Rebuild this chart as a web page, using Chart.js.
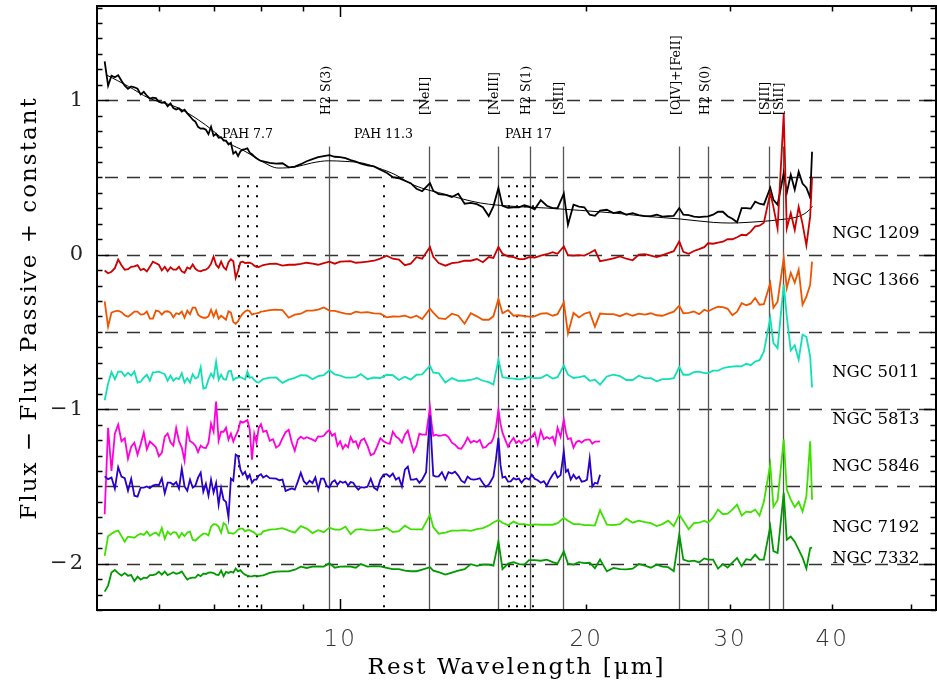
<!DOCTYPE html>
<html>
<head>
<meta charset="utf-8">
<script src="https://cdn.jsdelivr.net/npm/chart.js@4.4.1/dist/chart.umd.min.js"></script>
<style>
html,body{margin:0;padding:0;background:#fff;}
canvas{display:block;}
</style>
</head>
<body>
<canvas id="c" width="937" height="689"></canvas>
<script>
// ---------- data ----------
// common wavelength grid (micron) for the full-range spectra
const wavelengths = [5.15,5.2,5.25,5.3,5.35,5.4,5.45,5.5,5.55,5.6,5.65,5.7,5.75,5.8,5.85,5.9,5.95,6.0,6.05,6.1,
6.15,6.2,6.25,6.3,6.35,6.4,6.45,6.5,6.55,6.6,6.65,6.7,6.75,6.8,6.85,6.9,6.95,7.0,7.05,7.1,
7.15,7.2,7.25,7.3,7.35,7.4,7.45,7.5,7.55,7.6,7.65,7.7,7.75,7.8,7.85,7.9,7.95,8.0,8.05,
8.2,8.35,8.5,8.65,8.8,8.95,9.1,9.25,9.4,9.55,
9.7,9.85,10.0,10.15,10.3,10.45,10.6,10.8,11.0,11.2,11.4,11.6,11.8,12.0,12.2,12.4,12.6,12.88,13.0,13.2,
13.45,13.7,13.95,14.2,14.45,14.7,14.95,15.2,15.4,15.62,15.8,16.05,16.3,16.55,16.8,17.03,17.3,17.6,17.9,18.2,
18.45,18.78,19.0,19.3,19.6,19.9,20.2,20.5,20.8,21.2,21.6,22.0,22.4,22.8,23.2,23.6,24.0,24.4,24.8,25.2,
25.6,26.0,26.3,26.7,27.1,27.5,27.9,28.2,28.6,29.0,29.4,29.8,30.2,30.6,31.0,31.4,31.8,32.2,32.6,33.0,
33.6,33.9,34.3,34.9,35.2,35.6,36.0,36.4,36.8,37.2,37.6,37.8];

// finer wavelength grid (micron) for the two short-range spectra (NGC 5813, NGC 5846)
const wavelengthsShort = [5.15,5.2,5.25,5.3,5.35,5.4,5.45,5.5,5.55,5.6,5.65,5.7,5.75,5.8,5.85,5.9,5.95,6.0,6.05,6.1,
6.15,6.2,6.25,6.3,6.35,6.4,6.45,6.5,6.55,6.6,6.65,6.7,6.75,6.8,6.85,6.9,6.95,7.0,7.05,7.1,
7.15,7.2,7.25,7.3,7.35,7.4,7.45,7.5,7.55,7.6,7.65,7.7,7.75,7.8,7.85,7.9,7.95,8.0,8.05,
8.125,8.2,8.275,8.35,8.425,8.5,8.575,8.65,8.725,8.8,8.875,8.95,9.025,9.1,9.175,9.25,9.325,9.4,9.475,9.55,
9.625,9.7,9.775,9.85,9.925,10.0,10.075,10.15,10.225,10.3,10.375,10.45,10.525,10.6,10.7,10.8,10.9,11.0,11.1,11.2,
11.3,11.4,11.5,11.6,11.7,11.8,11.9,12.0,12.1,12.2,12.3,12.4,12.5,12.6,12.74,12.88,12.94,13.0,13.1,13.2,
13.32,13.45,13.57,13.7,13.82,13.95,14.07,14.2,14.32,14.45,14.57,14.7,14.82,14.95,15.07,15.2,15.3,15.4,15.51,15.62,
15.71,15.8,15.92,16.05,16.17,16.3,16.42,16.55,16.67,16.8,16.91,17.03,17.16,17.3,17.45,17.6,17.75,17.9,18.05,18.2,
18.32,18.45,18.61,18.78,18.89,19.0,19.15,19.3,19.45,19.6,19.75,19.9,20.05,20.2,20.35,20.5,20.65,20.8];

const passive = [1.251,1.094,1.159,1.149,1.162,1.126,1.094,1.074,1.089,1.084,1.074,1.038,1.055,1.029,1.010,1.016,1.014,0.990,0.984,0.988,
0.961,0.979,0.950,0.940,0.947,0.927,0.939,0.915,0.896,0.874,0.861,0.828,0.816,0.818,0.809,0.780,0.828,0.770,0.783,0.757,
0.760,0.738,0.738,0.714,0.725,0.654,0.667,0.639,0.669,0.680,0.684,0.689,0.660,0.650,0.636,0.625,0.615,0.607,0.604,
0.594,0.589,0.592,0.566,0.570,0.586,0.605,0.619,0.631,0.638,
0.644,0.634,0.632,0.625,0.612,0.602,0.590,0.579,0.572,0.550,
0.531,0.502,0.495,0.479,0.463,0.427,0.411,0.464,0.414,0.392,
0.388,0.373,0.395,0.330,0.335,0.327,0.307,0.250,0.313,0.432,
0.317,0.304,0.307,0.307,0.320,0.311,0.294,0.353,0.317,0.302,
0.301,0.395,0.194,0.324,0.311,0.307,0.259,0.252,0.285,0.291,
0.269,0.278,0.259,0.269,0.256,0.250,0.249,0.259,0.246,0.250,
0.252,0.302,0.259,0.256,0.246,0.243,0.246,0.248,0.259,0.278,
0.278,0.249,0.233,0.210,0.301,0.301,0.298,0.343,0.330,0.324,
0.432,0.356,0.324,0.529,0.401,0.518,0.421,0.537,0.460,0.434,
0.370,0.667];

const modelWave = [5.17,5.51,5.83,6.34,6.84,7.30,7.65,8.02,8.40,8.81,9.23,9.68,10.14,10.63,11.14,11.68,12.27,13.51,14.84,16.30,17.90,19.67,21.61,23.74,26.08,28.64,30.02,31.47,32.97,34.55,36.21,37.24,37.84];
const modelFlux = [1.165,1.089,1.014,0.950,0.841,0.723,0.669,0.604,0.561,0.568,0.594,0.608,0.604,0.594,0.561,0.518,0.453,0.388,0.335,0.313,0.302,0.287,0.270,0.248,0.231,0.209,0.205,0.209,0.216,0.227,0.244,0.275,0.313];

const ngc1209 = [-0.102,-0.120,-0.110,-0.087,-0.032,-0.068,-0.097,-0.094,-0.078,-0.076,-0.068,-0.100,-0.091,-0.108,-0.078,-0.045,-0.055,-0.065,-0.102,-0.078,
-0.107,-0.081,-0.097,-0.097,-0.078,-0.108,-0.117,-0.083,-0.091,-0.063,-0.091,-0.104,-0.107,-0.100,-0.097,-0.084,-0.058,-0.012,-0.065,-0.084,
-0.045,-0.081,-0.097,-0.049,-0.029,-0.042,-0.150,-0.104,-0.049,-0.045,-0.054,-0.052,-0.052,-0.058,-0.071,-0.078,-0.080,-0.073,-0.068,
-0.060,-0.058,-0.071,-0.065,-0.065,-0.060,-0.052,-0.058,-0.065,-0.054,
-0.045,-0.058,-0.045,-0.043,-0.042,-0.052,-0.049,-0.045,-0.039,-0.025,
-0.006,-0.026,-0.032,-0.068,-0.058,-0.016,-0.026,0.050,-0.013,-0.054,
-0.071,-0.054,-0.049,-0.039,-0.039,-0.028,-0.049,-0.015,-0.021,0.050,
0.006,-0.011,-0.016,-0.028,-0.029,-0.016,-0.019,-0.006,0.003,0.016,
0.006,0.054,-0.003,-0.006,-0.003,-0.006,0.011,0.030,-0.042,-0.034,
-0.024,-0.011,-0.026,-0.036,0.000,0.003,-0.006,-0.016,-0.003,0.010,
0.023,0.086,0.019,0.006,0.024,0.036,0.049,0.074,0.071,0.078,
0.084,0.100,0.100,0.113,0.129,0.126,0.149,0.183,0.188,0.207,
0.400,0.310,0.170,0.913,0.170,0.270,0.160,0.310,0.200,0.060,
0.248,0.498];

const ngc1366 = [-0.302,-0.466,-0.375,-0.366,-0.362,-0.372,-0.392,-0.401,-0.385,-0.368,-0.369,-0.388,-0.385,-0.368,-0.414,-0.414,-0.362,-0.366,-0.388,-0.369,
-0.366,-0.375,-0.405,-0.379,-0.385,-0.368,-0.408,-0.362,-0.385,-0.343,-0.343,-0.388,-0.401,-0.408,-0.408,-0.399,-0.356,-0.401,-0.362,-0.414,
-0.395,-0.408,-0.421,-0.366,-0.375,-0.436,-0.447,-0.430,-0.401,-0.382,-0.367,-0.359,-0.366,-0.388,-0.382,-0.380,-0.377,-0.369,-0.367,
-0.359,-0.355,-0.359,-0.408,-0.388,-0.382,-0.362,-0.362,-0.355,-0.341,
-0.362,-0.364,-0.373,-0.382,-0.385,-0.369,-0.375,-0.372,-0.380,-0.382,
-0.405,-0.400,-0.401,-0.395,-0.408,-0.395,-0.417,-0.350,-0.375,-0.410,
-0.417,-0.382,-0.395,-0.447,-0.379,-0.399,-0.421,-0.421,-0.399,-0.287,
-0.379,-0.359,-0.395,-0.392,-0.398,-0.401,-0.399,-0.382,-0.379,-0.395,
-0.385,-0.309,-0.510,-0.377,-0.406,-0.382,-0.372,-0.466,-0.381,-0.385,
-0.385,-0.398,-0.380,-0.395,-0.382,-0.388,-0.379,-0.392,-0.395,-0.382,
-0.369,-0.330,-0.379,-0.377,-0.367,-0.385,-0.356,-0.366,-0.350,-0.337,
-0.340,-0.350,-0.392,-0.369,-0.314,-0.327,-0.317,-0.280,-0.324,-0.320,
-0.183,-0.343,-0.304,-0.021,-0.216,-0.117,-0.181,-0.097,-0.324,-0.272,
-0.194,-0.045];

const ngc5011 = [-0.942,-0.835,-0.760,-0.806,-0.757,-0.757,-0.786,-0.764,-0.783,-0.756,-0.828,-0.822,-0.796,-0.777,-0.816,-0.762,-0.760,-0.757,-0.766,-0.773,
-0.816,-0.783,-0.816,-0.799,-0.806,-0.767,-0.828,-0.799,-0.828,-0.773,-0.802,-0.793,-0.728,-0.867,-0.861,-0.806,-0.770,-0.796,-0.693,-0.809,
-0.777,-0.806,-0.809,-0.754,-0.751,-0.812,-0.799,-0.796,-0.793,-0.800,-0.808,-0.757,-0.796,-0.793,-0.812,-0.824,-0.828,-0.816,-0.805,
-0.796,-0.795,-0.830,-0.809,-0.797,-0.780,-0.782,-0.806,-0.786,-0.780,
-0.748,-0.775,-0.782,-0.796,-0.796,-0.792,-0.773,-0.806,-0.795,-0.798,
-0.777,-0.780,-0.811,-0.790,-0.809,-0.777,-0.775,-0.720,-0.764,-0.767,
-0.828,-0.799,-0.816,-0.816,-0.811,-0.798,-0.816,-0.825,-0.841,-0.680,
-0.793,-0.799,-0.802,-0.807,-0.802,-0.793,-0.799,-0.799,-0.777,-0.802,
-0.793,-0.718,-0.777,-0.798,-0.793,-0.785,-0.816,-0.809,-0.841,-0.788,
-0.777,-0.786,-0.811,-0.811,-0.783,-0.799,-0.799,-0.819,-0.805,-0.806,
-0.799,-0.727,-0.777,-0.777,-0.760,-0.757,-0.766,-0.766,-0.751,-0.751,
-0.735,-0.728,-0.725,-0.722,-0.723,-0.706,-0.715,-0.691,-0.683,-0.628,
-0.410,-0.572,-0.605,-0.194,-0.399,-0.620,-0.586,-0.680,-0.518,-0.531,
-0.660,-0.860];

const ngc5813 = [-1.680,-1.120,-1.400,-1.158,-1.100,-1.207,-1.188,-1.320,-1.243,-1.217,-1.294,-1.227,-1.152,-1.259,-1.210,-1.227,-1.246,-1.304,-1.283,-1.178,
-1.158,-1.214,-1.236,-1.123,-1.207,-1.249,-1.333,-1.133,-1.207,-1.217,-1.236,-1.278,-1.236,-1.249,-1.252,-1.217,-1.094,-1.146,-0.950,-1.204,
-1.146,-1.146,-1.120,-1.197,-1.158,-1.210,-1.172,-1.139,-1.079,-1.087,-1.079,-1.071,-1.130,-1.327,-1.160,-1.217,-1.120,-1.097,-1.146,
-1.139,-1.204,-1.194,-1.249,-1.233,-1.188,-1.149,-1.133,-1.214,-1.269,-1.197,-1.178,-1.191,-1.181,-1.189,-1.197,-1.206,-1.176,-1.178,-1.172,
-1.149,-1.136,-1.172,-1.158,-1.236,-1.208,-1.256,-1.230,-1.246,-1.181,-1.214,-1.207,-1.249,-1.204,-1.190,-1.236,-1.298,-1.288,-1.241,-1.188,
-1.207,-1.219,-1.225,-1.146,-1.176,-1.191,-1.217,-1.165,-1.139,-1.210,-1.275,-1.236,-1.158,-1.165,-1.165,-0.990,-1.094,-1.172,-1.165,-1.172,
-1.170,-1.165,-1.181,-1.217,-1.230,-1.252,-1.256,-1.223,-1.184,-1.217,-1.204,-1.214,-1.199,-1.249,-1.246,-1.223,-1.217,-1.188,-1.120,-1.003,
-1.094,-1.152,-1.197,-1.243,-1.210,-1.186,-1.219,-1.204,-1.221,-1.201,-1.204,-1.194,-1.178,-1.152,-1.228,-1.139,-1.194,-1.181,-1.191,-1.178,
-1.223,-1.120,-1.178,-1.068,-1.149,-1.194,-1.188,-1.249,-1.214,-1.204,-1.217,-1.201,-1.197,-1.197,-1.223,-1.210,-1.210,-1.208];

const ngc5846 = [-1.435,-1.453,-1.443,-1.515,-1.375,-1.437,-1.447,-1.528,-1.450,-1.560,-1.566,-1.508,-1.508,-1.500,-1.511,-1.495,-1.489,-1.492,-1.447,-1.544,
-1.476,-1.476,-1.489,-1.472,-1.515,-1.385,-1.500,-1.528,-1.456,-1.508,-1.495,-1.443,-1.411,-1.534,-1.482,-1.560,-1.456,-1.540,-1.478,-1.618,
-1.510,-1.586,-1.600,-1.700,-1.450,-1.463,-1.294,-1.305,-1.392,-1.424,-1.405,-1.450,-1.424,-1.476,-1.456,-1.456,-1.430,-1.421,-1.443,
-1.430,-1.447,-1.448,-1.450,-1.460,-1.456,-1.530,-1.521,-1.513,-1.521,-1.469,-1.411,-1.466,-1.485,-1.463,-1.478,-1.442,-1.521,-1.450,-1.450,
-1.495,-1.508,-1.472,-1.460,-1.490,-1.467,-1.476,-1.469,-1.495,-1.472,-1.476,-1.502,-1.521,-1.505,-1.508,-1.502,-1.450,-1.508,-1.523,-1.456,
-1.424,-1.421,-1.437,-1.417,-1.456,-1.443,-1.500,-1.392,-1.372,-1.456,-1.456,-1.450,-1.476,-1.456,-1.408,-1.040,-1.243,-1.430,-1.437,-1.435,
-1.408,-1.456,-1.408,-1.417,-1.405,-1.430,-1.463,-1.476,-1.437,-1.453,-1.456,-1.453,-1.447,-1.478,-1.502,-1.489,-1.463,-1.437,-1.327,-1.186,
-1.359,-1.443,-1.437,-1.469,-1.467,-1.447,-1.456,-1.450,-1.476,-1.453,-1.447,-1.456,-1.424,-1.450,-1.460,-1.476,-1.466,-1.495,-1.456,-1.424,
-1.405,-1.443,-1.427,-1.273,-1.405,-1.392,-1.456,-1.424,-1.450,-1.437,-1.469,-1.466,-1.456,-1.320,-1.500,-1.476,-1.482,-1.424];

const ngc7192 = [-1.950,-1.822,-1.806,-1.793,-1.786,-1.822,-1.858,-1.825,-1.828,-1.832,-1.816,-1.806,-1.814,-1.792,-1.819,-1.806,-1.799,-1.819,-1.769,-1.838,
-1.793,-1.812,-1.796,-1.799,-1.832,-1.802,-1.822,-1.798,-1.793,-1.845,-1.851,-1.834,-1.819,-1.806,-1.806,-1.817,-1.761,-1.744,-1.745,-1.761,
-1.800,-1.737,-1.750,-1.802,-1.802,-1.806,-1.796,-1.780,-1.773,-1.773,-1.791,-1.783,-1.783,-1.791,-1.799,-1.812,-1.812,-1.809,-1.791,
-1.780,-1.777,-1.770,-1.786,-1.799,-1.757,-1.773,-1.802,-1.783,-1.796,
-1.767,-1.780,-1.780,-1.761,-1.809,-1.779,-1.777,-1.783,-1.785,-1.780,
-1.767,-1.796,-1.790,-1.754,-1.777,-1.778,-1.778,-1.683,-1.764,-1.806,
-1.799,-1.786,-1.786,-1.783,-1.788,-1.777,-1.770,-1.753,-1.733,-1.717,
-1.735,-1.751,-1.728,-1.744,-1.744,-1.751,-1.746,-1.748,-1.748,-1.748,
-1.738,-1.704,-1.722,-1.744,-1.744,-1.751,-1.751,-1.754,-1.654,-1.748,
-1.751,-1.744,-1.709,-1.735,-1.722,-1.731,-1.738,-1.757,-1.744,-1.722,
-1.757,-1.683,-1.722,-1.777,-1.738,-1.735,-1.722,-1.735,-1.702,-1.650,
-1.680,-1.676,-1.650,-1.618,-1.689,-1.663,-1.667,-1.650,-1.689,-1.599,
-1.359,-1.631,-1.589,-1.197,-1.521,-1.586,-1.634,-1.599,-1.663,-1.564,
-1.208,-1.586];

const ngc7332 = [-2.181,-2.142,-2.058,-2.041,-2.061,-2.078,-2.061,-2.078,-2.074,-2.113,-2.084,-2.104,-2.091,-2.093,-2.074,-2.074,-2.068,-2.052,-2.071,-2.052,
-2.074,-2.065,-2.055,-2.065,-2.061,-2.050,-2.078,-2.103,-2.093,-2.091,-2.091,-2.071,-2.081,-2.065,-2.067,-2.058,-2.057,-2.061,-2.071,-2.074,
-2.045,-2.081,-2.053,-2.060,-2.052,-2.058,-2.032,-2.050,-2.042,-2.060,-2.071,-2.078,-2.082,-2.082,-2.078,-2.079,-2.081,-2.078,-2.076,
-2.060,-2.052,-2.050,-2.050,-2.039,-2.019,-2.028,-2.019,-2.018,-2.019,
-1.997,-2.026,-2.019,-2.017,-2.019,-2.026,-2.003,-2.019,-2.016,-2.017,
-2.027,-2.036,-2.036,-2.045,-2.049,-2.049,-2.039,-2.023,-2.045,-2.055,
-2.071,-2.058,-2.045,-2.036,-2.003,-2.014,-2.006,-2.006,-2.013,-1.856,
-2.036,-2.000,-1.990,-2.003,-2.006,-1.977,-1.977,-1.981,-1.974,-1.990,
-2.000,-1.920,-2.000,-2.006,-1.990,-1.997,-1.994,-2.030,-1.974,-2.050,
-2.028,-2.036,-2.037,-2.032,-2.002,-2.013,-2.026,-2.006,-2.019,-2.023,
-2.049,-1.812,-1.974,-1.985,-1.981,-1.992,-1.966,-1.974,-1.974,-2.032,
-2.003,-2.026,-1.994,-1.963,-2.016,-1.971,-1.977,-1.942,-1.974,-1.974,
-1.759,-1.919,-1.931,-1.542,-1.845,-1.825,-1.858,-1.909,-1.961,-2.032,
-1.900,-1.897];

// galaxy names and where their labels sit
const galaxyNames = ['NGC 1209','NGC 1366','NGC 5011','NGC 5813','NGC 5846','NGC 7192','NGC 7332'];
const galaxyLabelY = [0.135,-0.168,-0.764,-1.068,-1.372,-1.767,-1.968];
const galaxyLabelX = 40;

// emission lines (solid verticals + rotated labels)
const lineNames = ['H2 S(3)','[NeII]','[NeIII]','H2 S(1)','[SIII]','[OIV]+[FeII]','H2 S(0)','[SIII]','[SiII]'];
const lineWaves = [9.70,12.85,15.60,17.07,18.73,26.0,28.23,33.5,34.8];
// PAH features (dotted verticals + labels)
const pahNames = ['PAH 7.7','PAH 11.3','PAH 17'];
const pahWaves = [7.7,11.3,17.0];
const pahDotWaves = [7.53,7.72,7.92,11.3,16.07,16.45,16.84,17.24];

// axes
const xTickValues = [6,7,8,9,10,20,30,40,50];
const xTickLabels = [10,20,30,40];
const yTickLabels = [-2,-1,0,1];
const dashLevels = [1,0.5,0,-0.5,-1,-1.5,-2];

// ---------- chart ----------
const pts = (ys, xs) => ys.map((v, i) => ({x: xs[i], y: v}));

const seriesDefs = [
  {label: 'Passive', data: pts(passive, wavelengths), color: '#000000', w: 1.8},
  {label: 'Model', data: pts(modelFlux, modelWave), color: '#000000', w: 1.0, smooth: true},
  {label: 'NGC 1209', data: pts(ngc1209, wavelengths), color: '#cc0000', w: 1.8},
  {label: 'NGC 1366', data: pts(ngc1366, wavelengths), color: '#ee5500', w: 1.8},
  {label: 'NGC 5011', data: pts(ngc5011, wavelengths), color: '#10e0b4', w: 1.8},
  {label: 'NGC 5813', data: pts(ngc5813, wavelengthsShort), color: '#ff00dd', w: 1.8},
  {label: 'NGC 5846', data: pts(ngc5846, wavelengthsShort), color: '#2a00cc', w: 1.8},
  {label: 'NGC 7192', data: pts(ngc7192, wavelengths), color: '#3ee000', w: 1.8},
  {label: 'NGC 7332', data: pts(ngc7332, wavelengths), color: '#009900', w: 1.8}
];

const datasets = seriesDefs.map((s, i) => ({
  label: s.label,
  data: s.data,
  borderColor: s.color,
  backgroundColor: s.color,
  borderWidth: s.w,
  pointRadius: 0,
  fill: false,
  tension: 0,
  cubicInterpolationMode: s.smooth ? 'monotone' : 'default',
  order: seriesDefs.length - i
}));

function line(ctx, x1, y1, x2, y2) {
  ctx.beginPath(); ctx.moveTo(x1, y1); ctx.lineTo(x2, y2); ctx.stroke();
}

const decor = {
  id: 'decor',
  beforeDraw(chart) {
    chart.ctx.letterSpacing = '2px';
  },
  beforeDatasetsDraw(chart) {
    const {ctx, chartArea: a, scales: {x, y}} = chart;
    ctx.save();
    ctx.letterSpacing = '0px';
    ctx.setLineDash([13, 9]);
    ctx.strokeStyle = '#333';
    ctx.lineWidth = 1.4;
    dashLevels.forEach(v => {
      const py = Math.round(y.getPixelForValue(v)) + 0.5;
      line(ctx, a.left + 8, py, a.right, py);
    });
    ctx.setLineDash([]);
    ctx.strokeStyle = '#555';
    ctx.lineWidth = 1.3;
    const yTopSolid = y.getPixelForValue(0.70);
    lineWaves.forEach(w => {
      const px = Math.round(x.getPixelForValue(w)) + 0.5;
      line(ctx, px, yTopSolid, px, a.bottom);
    });
    ctx.setLineDash([2, 8]);
    ctx.strokeStyle = '#000';
    ctx.lineWidth = 2;
    const yTopDot = y.getPixelForValue(0.45);
    pahDotWaves.forEach(w => {
      const px = Math.round(x.getPixelForValue(w));
      line(ctx, px, yTopDot, px, a.bottom);
    });
    ctx.restore();
  },
  afterDatasetsDraw(chart) {
    const {ctx, chartArea: a, scales: {x, y}} = chart;
    ctx.save();
    ctx.letterSpacing = '0px';
    ctx.setLineDash([]);
    ctx.strokeStyle = '#000';
    ctx.lineWidth = 2;
    ctx.strokeRect(a.left, a.top, a.right - a.left, a.bottom - a.top);
    ctx.lineWidth = 1.5;
    xTickValues.forEach(v => {
      const px = Math.round(x.getPixelForValue(v)) + 0.5;
      const len = v === 10 ? 11 : 5.5;
      line(ctx, px, a.bottom, px, a.bottom - len);
      line(ctx, px, a.top, px, a.top + len);
    });
    for (let k = -23; k <= 16; k++) {
      const py = Math.round(y.getPixelForValue(k / 10)) + 0.5;
      const len = (k % 10 === 0) ? 12 : 5.5;
      line(ctx, a.left, py, a.left + len, py);
      line(ctx, a.right, py, a.right - len, py);
    }
    ctx.fillStyle = '#000';
    ctx.font = '12.5px "DejaVu Serif"';
    const yLab = y.getPixelForValue(0.905);
    lineNames.forEach((n, i) => {
      const px = x.getPixelForValue(lineWaves[i]) - 3;
      ctx.save();
      ctx.translate(px, yLab);
      ctx.rotate(-Math.PI / 2);
      ctx.textAlign = 'left';
      ctx.textBaseline = 'middle';
      ctx.fillText(n, 0, 0);
      ctx.restore();
    });
    ctx.textAlign = 'center';
    ctx.textBaseline = 'middle';
    const yPah = y.getPixelForValue(0.777);
    pahNames.forEach((n, i) => {
      ctx.fillText(n, x.getPixelForValue(pahWaves[i]), yPah);
    });
    ctx.font = '16.5px "DejaVu Serif"';
    ctx.textAlign = 'left';
    galaxyNames.forEach((n, i) => {
      ctx.fillText(n, x.getPixelForValue(galaxyLabelX), y.getPixelForValue(galaxyLabelY[i]));
    });
    ctx.restore();
  }
};

new Chart(document.getElementById('c'), {
  type: 'line',
  data: {datasets},
  options: {
    responsive: false,
    animation: false,
    devicePixelRatio: 1,
    layout: {padding: {left: 0, right: 1, top: 6, bottom: 0}},
    plugins: {legend: {display: false}, tooltip: {enabled: false}, title: {display: false}},
    scales: {
      x: {
        type: 'logarithmic',
        min: 5.04,
        max: 53.6,
        afterBuildTicks: s => { s.ticks = xTickValues.map(v => ({value: v})); },
        afterFit: s => { s.height = 79; s.paddingLeft = 0; s.paddingRight = 0; s.paddingTop = 0; s.paddingBottom = 0; },
        grid: {display: false, drawTicks: false},
        border: {display: false},
        ticks: {
          autoSkip: false,
          maxRotation: 0,
          minRotation: 0,
          padding: 16,
          color: '#333',
          font: {family: '"DejaVu Sans"', size: 23, weight: '200'},
          callback: v => xTickLabels.includes(v) ? String(v) : ''
        },
        title: {
          display: true,
          text: 'Rest Wavelength [μm]',
          color: '#000',
          font: {family: '"DejaVu Serif"', size: 23},
          padding: {top: 0, bottom: 7}
        }
      },
      y: {
        type: 'linear',
        min: -2.3,
        max: 1.61,
        afterBuildTicks: s => { s.ticks = yTickLabels.map(v => ({value: v})); },
        afterFit: s => { s.width = 97; s.paddingLeft = 0; s.paddingRight = 0; s.paddingTop = 0; s.paddingBottom = 0; },
        grid: {display: false, drawTicks: false},
        border: {display: false},
        ticks: {
          autoSkip: false,
          padding: 12,
          color: '#222',
          font: {family: '"DejaVu Serif"', size: 21},
          callback: v => (v < 0 ? '\u2212' + Math.abs(v) : String(v))
        },
        title: {
          display: true,
          text: 'Flux \u2212 Flux Passive + constant',
          color: '#000',
          font: {family: '"DejaVu Serif"', size: 23},
          padding: {top: 16, bottom: 0}
        }
      }
    }
  },
  plugins: [decor]
});
</script>
</body>
</html>
